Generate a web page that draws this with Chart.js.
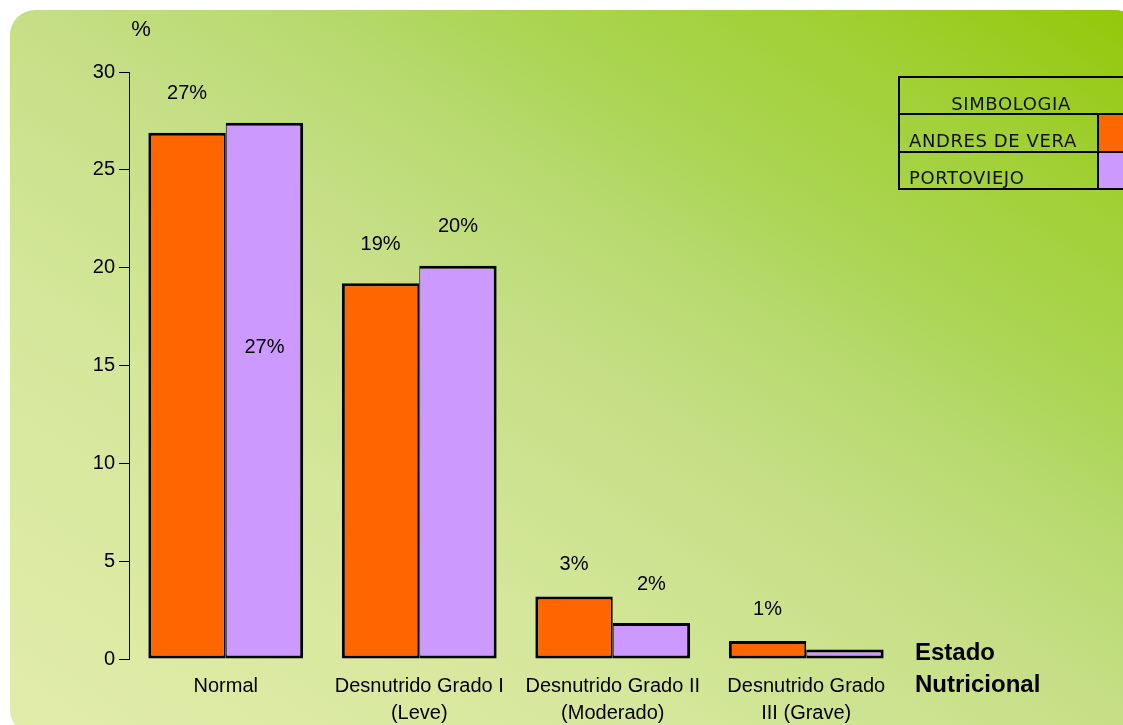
<!DOCTYPE html>
<html>
<head>
<meta charset="utf-8">
<script src="https://cdn.jsdelivr.net/npm/chart.js@4.4.0/dist/chart.umd.min.js"></script>
<style>
  html, body { margin: 0; padding: 0; background: #fff; }
  #wrap { width: 1123px; height: 725px; }
</style>
</head>
<body>
<div id="wrap"><canvas id="chart" width="1123" height="725"></canvas></div>
<script>
// Data
const categories = [
  'Normal',
  ['Desnutrido Grado I', '(Leve)'],
  ['Desnutrido Grado II', '(Moderado)'],
  ['Desnutrido Grado', 'III (Grave)']
];
const seriesNames = ['ANDRES DE VERA', 'PORTOVIEJO'];
const andresValues = [26.9, 19.2, 3.2, 0.92];
const portoValues = [27.4, 20.1, 1.84, 0.48];
const andresLabels = ['27%', '19%', '3%', '1%'];
const portoLabels = ['27%', '20%', '2%', ''];
const yTicks = [0, 5, 10, 15, 20, 25, 30];

const ORANGE = '#ff6600';
const PURPLE = '#cc99ff';

// Rounded green panel behind everything
const backgroundPanel = {
  id: 'backgroundPanel',
  beforeDraw(chart) {
    const ctx = chart.ctx;
    ctx.save();
    ctx.fillStyle = '#ffffff';
    ctx.fillRect(0, 0, chart.width, chart.height);
    ctx.beginPath();
    ctx.roundRect(10, 10, 1130, 725, 25);
    ctx.clip();
    // diagonal gradient, pale bottom-left to bright green top-right
    ctx.translate(10, 10);
    ctx.scale(1113, 715);
    const g = ctx.createLinearGradient(0, 1, 1, 0);
    g.addColorStop(0, '#e1eca9');
    g.addColorStop(0.3, '#d5e79b');
    g.addColorStop(0.5, '#c6df86');
    g.addColorStop(0.62, '#b8da70');
    g.addColorStop(0.72, '#abd553');
    g.addColorStop(0.86, '#a0d034');
    g.addColorStop(1, '#93c80a');
    ctx.fillStyle = g;
    ctx.fillRect(-0.1, -0.1, 1.3, 1.3);
    ctx.restore();
  }
};

// Percent labels over the bars
const barLabels = {
  id: 'barLabels',
  afterDatasetsDraw(chart, args, opts) {
    const ctx = chart.ctx;
    const y = chart.scales.y;
    ctx.save();
    ctx.font = '20px "Liberation Sans", Arial, sans-serif';
    ctx.fillStyle = '#000';
    ctx.textAlign = 'center';
    ctx.textBaseline = 'middle';
    opts.texts.forEach((texts, di) => {
      const meta = chart.getDatasetMeta(di);
      texts.forEach((t, i) => {
        if (!t) return;
        const el = meta.data[i];
        const spec = opts.place[di][i];
        const py = spec.at !== undefined ? y.getPixelForValue(spec.at) : el.y - spec.dy;
        ctx.fillText(t, el.x, py);
      });
    });
    ctx.restore();
  }
};

// "SIMBOLOGIA" table legend, axis captions
const extras = {
  id: 'extras',
  afterDraw(chart) {
    const ctx = chart.ctx;
    const ds = chart.data.datasets;
    ctx.save();
    // table
    ctx.strokeStyle = '#000';
    ctx.lineWidth = 2;
    ctx.strokeRect(899, 77, 240, 112);
    ctx.fillStyle = ds[0].backgroundColor;
    ctx.fillRect(1099, 115, 40, 36);
    ctx.fillStyle = ds[1].backgroundColor;
    ctx.fillRect(1099, 153, 40, 35);
    ctx.beginPath();
    ctx.moveTo(899, 114); ctx.lineTo(1140, 114);
    ctx.moveTo(899, 152); ctx.lineTo(1140, 152);
    ctx.moveTo(1098, 114); ctx.lineTo(1098, 189);
    ctx.stroke();
    ctx.fillStyle = '#111';
    ctx.font = '18px "DejaVu Sans", Verdana, sans-serif';
    ctx.letterSpacing = '0.6px';
    ctx.textBaseline = 'alphabetic';
    ctx.textAlign = 'left';
    const w = ctx.measureText('SIMBOLOGIA').width;
    ctx.fillText('SIMBOLOGIA', 1011 - w / 2, 110);
    ctx.fillText(ds[0].label, 909, 147);
    ctx.fillText(ds[1].label, 909, 184);
    ctx.letterSpacing = '0px';
    // axis captions
    ctx.fillStyle = '#000';
    ctx.textBaseline = 'middle';
    ctx.textAlign = 'center';
    ctx.font = '22px "Liberation Sans", Arial, sans-serif';
    ctx.fillText('%', 141, 30);
    ctx.textAlign = 'left';
    ctx.font = 'bold 24px "Liberation Sans", Arial, sans-serif';
    ctx.fillText('Estado', 915, 653);
    ctx.fillText('Nutricional', 915, 685);
    ctx.restore();
  }
};

new Chart(document.getElementById('chart'), {
  type: 'bar',
  data: {
    labels: categories,
    datasets: [
      {
        label: seriesNames[0],
        data: andresValues,
        backgroundColor: ORANGE,
        borderColor: '#000',
        borderWidth: { left: 3, top: 3, bottom: 3, right: 2 },
        borderSkipped: false,
        barPercentage: 1,
        categoryPercentage: 0.8
      },
      {
        label: seriesNames[1],
        data: portoValues,
        backgroundColor: PURPLE,
        borderColor: '#000',
        borderWidth: { left: 1, top: 3, bottom: 3, right: 3 },
        borderSkipped: false,
        barPercentage: 1,
        categoryPercentage: 0.8
      }
    ]
  },
  options: {
    responsive: false,
    animation: false,
    layout: { padding: { top: 72, right: 220, left: 0, bottom: 0 } },
    plugins: {
      legend: { display: false },
      tooltip: { enabled: false },
      barLabels: {
        texts: [andresLabels, portoLabels],
        place: [
          [{ dy: 39 }, { dy: 39 }, { dy: 32 }, { dy: 32 }],
          [{ at: 15.9 }, { dy: 39 }, { dy: 39 }, { dy: 39 }]
        ]
      }
    },
    scales: {
      x: {
        grid: { display: false, drawTicks: false },
        border: { display: false },
        ticks: {
          color: '#000',
          padding: 14,
          maxRotation: 0,
          autoSkip: false,
          font: { family: '"Liberation Sans", Arial, sans-serif', size: 20, lineHeight: 1.35 }
        },
        afterFit(scale) { scale.height = 66; }
      },
      y: {
        min: 0,
        max: 30,
        afterBuildTicks(scale) { scale.ticks = yTicks.map(v => ({ value: v })); },
        grid: { drawOnChartArea: false, drawTicks: true, tickLength: 10, color: '#000', lineWidth: 1 },
        border: { display: true, color: '#000', width: 1 },
        ticks: {
          color: '#000',
          padding: 4,
          font: { family: '"Liberation Sans", Arial, sans-serif', size: 20 }
        },
        afterFit(scale) { scale.width = 129; }
      }
    }
  },
  plugins: [backgroundPanel, barLabels, extras]
});
</script>
</body>
</html>
